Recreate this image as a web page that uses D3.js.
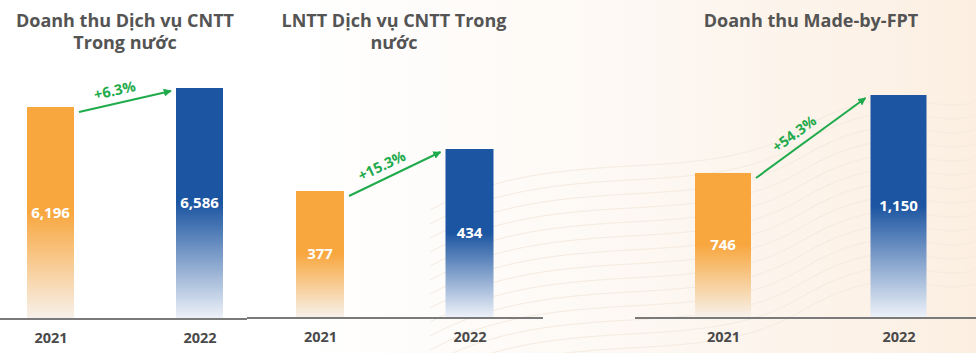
<!DOCTYPE html>
<html>
<head>
<meta charset="utf-8">
<script src="https://cdn.jsdelivr.net/npm/d3@7"></script>
<style>
html,body{margin:0;padding:0;background:#fff;}
svg{display:block;}
</style>
</head>
<body>
<svg id="chart" width="976" height="353"></svg>
<script>
// ---- data ----
const years = ["2021", "2022"];
const titleLines1 = ["Doanh thu Dịch vụ CNTT", "Trong nước"];
const titleLines2 = ["LNTT Dịch vụ CNTT Trong", "nước"];
const titleLines3 = ["Doanh thu Made-by-FPT"];
const revenueDomesticIT = [6196, 6586];
const profitDomesticIT = [377, 434];
const revenueMadeByFPT = [746, 1150];
const growthLabels = ["+6.3%", "+15.3%", "+54.3%"];

// ---- layout ----
const W = 976, H = 353;
const svg = d3.select("#chart");
const defs = svg.append("defs");

const bg = defs.append("linearGradient").attr("id", "bg").attr("x1", "0").attr("x2", "1").attr("y1", "0").attr("y2", "0");
bg.append("stop").attr("offset", "0").attr("stop-color", "#ffffff");
bg.append("stop").attr("offset", "0.3").attr("stop-color", "#ffffff");
bg.append("stop").attr("offset", "0.65").attr("stop-color", "#fdf8f3");
bg.append("stop").attr("offset", "1").attr("stop-color", "#fcefe2");
svg.append("rect").attr("width", W).attr("height", H).attr("fill", "url(#bg)");

// faint wavy background lines
const waves = svg.append("g").attr("fill", "none").attr("stroke", "#f5ebe0").attr("stroke-width", 1);
for (let i = 0; i < 14; i++) {
  const y0 = 150 + i * 14;
  waves.append("path").attr("d",
    `M 430 ${y0 + 60} C 560 ${y0 - 10}, 700 ${y0 + 40}, 800 ${y0 - 20} S 930 ${y0 - 30}, 980 ${y0 - 50}`);
}

function grad(id, color, pale) {
  const g = defs.append("linearGradient").attr("id", id).attr("x1", "0").attr("x2", "0").attr("y1", "0").attr("y2", "1");
  g.append("stop").attr("offset", "0").attr("stop-color", color);
  g.append("stop").attr("offset", "0.5").attr("stop-color", color);
  g.append("stop").attr("offset", "1").attr("stop-color", pale);
}
grad("gOrange", "#f8a73f", "#f7f1ea");
grad("gBlue", "#1c55a1", "#edf1f8");
const fills = ["url(#gOrange)", "url(#gBlue)"];

const green = "#1faa4c";
defs.append("marker").attr("id", "arrow").attr("viewBox", "0 0 10 10")
  .attr("refX", 9).attr("refY", 5).attr("markerWidth", 4).attr("markerHeight", 4)
  .attr("markerUnits", "strokeWidth").attr("orient", "auto")
  .append("path").attr("d", "M0,0 L10,5 L0,10 Z").attr("fill", green);

const font = "'Open Sans', 'Noto Sans', sans-serif";

const panels = [
  { values: revenueDomesticIT, title: titleLines1, growth: growthLabels[0],
    centers: [50.5, 199.5], bw: 47, base: 318, top: 88, domain: [1860, 6586], axis: [0, 247], titleX: 125 },
  { values: profitDomesticIT, title: titleLines2, growth: growthLabels[1],
    centers: [320, 469.5], bw: 48, base: 317, top: 149, domain: [206, 434], axis: [247, 543], titleX: 394 },
  { values: revenueMadeByFPT, title: titleLines3, growth: growthLabels[2],
    centers: [723, 898.5], bw: 56, base: 317, top: 95, domain: [0, 1150], axis: [635, 976], titleX: 811 }
];

panels.forEach((p, pi) => {
  const g = svg.append("g");
  const x = d3.scalePoint().domain(years).range(p.centers);
  const y = d3.scaleLinear().domain(p.domain).range([p.base, p.top]);

  // title (one text element per line)
  p.title.forEach((line, li) => {
    g.append("text").attr("x", p.titleX).attr("y", 27 + li * 22)
      .attr("text-anchor", "middle").attr("font-family", font).attr("font-weight", 700)
      .attr("font-size", 18).attr("fill", "#545454").text(line);
  });

  // bars
  g.selectAll("rect.bar").data(p.values).join("rect").attr("class", "bar")
    .attr("x", (d, i) => x(years[i]) - p.bw / 2)
    .attr("width", p.bw)
    .attr("y", d => y(d))
    .attr("height", d => y(p.domain[0]) - y(d))
    .attr("fill", (d, i) => fills[i]);

  // value labels
  g.selectAll("text.val").data(p.values).join("text").attr("class", "val")
    .attr("x", (d, i) => x(years[i]))
    .attr("y", d => (y(d) + y(p.domain[0])) / 2)
    .attr("dy", "0.35em")
    .attr("text-anchor", "middle").attr("font-family", font).attr("font-weight", 700)
    .attr("font-size", 15).attr("fill", "#ffffff")
    .text(d => d3.format(",")(d));

  // axis line
  g.append("line").attr("x1", p.axis[0]).attr("x2", p.axis[1])
    .attr("y1", p.base + 1).attr("y2", p.base + 1)
    .attr("stroke", "#7a7a7a").attr("stroke-width", 2);

  // axis tick labels
  const ax = g.append("g").attr("transform", `translate(0,${p.base + 1})`)
    .call(d3.axisBottom(x).tickSize(0).tickPadding(14));
  ax.select(".domain").remove();
  ax.selectAll("text").attr("font-family", font).attr("font-weight", 700)
    .attr("font-size", 14.5).attr("fill", "#4a4a4a");

  // growth arrow
  const v0 = p.values[0], v1 = p.values[1];
  const x0 = x(years[0]) + p.bw / 2 + 5, y0 = y(v0) + 5;
  const x1 = x(years[1]) - p.bw / 2 - 5, y1 = y(v1) + 3;
  g.append("line").attr("x1", x0).attr("y1", y0).attr("x2", x1).attr("y2", y1)
    .attr("stroke", green).attr("stroke-width", 2).attr("marker-end", "url(#arrow)");
  const ang = Math.atan2(y1 - y0, x1 - x0);
  const tt = 0.42;
  const mx = x0 + (x1 - x0) * tt + Math.sin(ang) * 13;
  const my = y0 + (y1 - y0) * tt - Math.cos(ang) * 13;
  g.append("text").attr("transform", `translate(${mx},${my}) rotate(${ang * 180 / Math.PI})`)
    .attr("text-anchor", "middle").attr("dy", "0.35em")
    .attr("font-family", font).attr("font-weight", 700).attr("font-size", 14.5)
    .attr("fill", green).text(p.growth);
});
</script>
</body>
</html>
